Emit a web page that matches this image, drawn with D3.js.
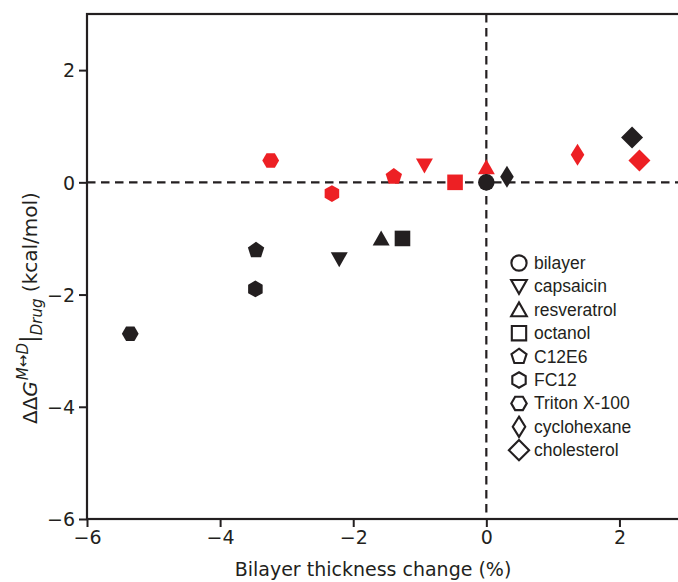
<!DOCTYPE html>
<html>
<head>
<meta charset="utf-8">
<script src="https://cdn.jsdelivr.net/npm/d3@7"></script>
<style>
  body { margin: 0; background: #fff; }
  svg { display: block; }
</style>
</head>
<body>
<div id="chart"></div>
<script>
/* drug names, one shape each */
const drugs = ["bilayer", "capsaicin", "resveratrol", "octanol", "C12E6", "FC12", "Triton X-100", "cyclohexane", "cholesterol"];
const shapes = ["circle", "triDown", "triUp", "square", "pentagon", "hexTall", "hexWide", "thinDiamond", "diamond"];

/* thickness change (%) and ddG (kcal/mol), black series */
const blackX = [0, -2.21, -1.58, -1.26, -3.46, -3.47, -5.35, 0.31, 2.19];
const blackY = [0, -1.37, -1.0, -1.0, -1.21, -1.9, -2.7, 0.1, 0.8];
/* red series (no bilayer point) */
const redX = [null, -0.93, 0.0, -0.47, -1.39, -2.32, -3.24, 1.37, 2.3];
const redY = [null, 0.3, 0.27, 0.0, 0.1, -0.2, 0.39, 0.49, 0.39];

const xTicks = [-6, -4, -2, 0, 2];
const yTicks = [-6, -4, -2, 0, 2];

const width = 678, height = 582;
const margin = {left: 87, top: 14, right: -8, bottom: 63};
const black = "#231f20", red = "#ed2024";

const svg = d3.select("#chart").append("svg")
  .attr("width", width).attr("height", height);

const x = d3.scaleLinear().domain([-6, 3]).range([margin.left, width - margin.right]);
const y = d3.scaleLinear().domain([-6, 3]).range([height - margin.bottom, margin.top]);

/* polygon path for a marker shape */
function markerPath(shape) {
  const poly = (n, r, rot) => d3.range(n).map(i => {
    const a = rot + i * 2 * Math.PI / n;
    return [r * Math.sin(a), -r * Math.cos(a)];
  });
  let pts;
  switch (shape) {
    case "circle": return d3.symbol(d3.symbolCircle, 215)();
    case "triDown": pts = [[-8.5, -7], [8.5, -7], [0, 8]]; break;
    case "triUp": pts = [[-8.5, 7], [8.5, 7], [0, -8]]; break;
    case "square": pts = [[-7.8, -7.8], [7.8, -7.8], [7.8, 7.8], [-7.8, 7.8]]; break;
    case "pentagon": pts = poly(5, 8.6, 0); break;
    case "hexTall": pts = poly(6, 8.4, 0); break;
    case "hexWide": pts = poly(6, 8.4, Math.PI / 6); break;
    case "thinDiamond": pts = [[0, -11], [6.8, 0], [0, 11], [-6.8, 0]]; break;
    case "diamond": pts = [[0, -11], [11, 0], [0, 11], [-11, 0]]; break;
  }
  return "M" + pts.map(p => p.join(",")).join("L") + "Z";
}

/* dashed zero lines */
svg.append("line")
  .attr("x1", x(0)).attr("x2", x(0))
  .attr("y1", y(3)).attr("y2", y(-6))
  .attr("stroke", black).attr("stroke-width", 2.2).attr("stroke-dasharray", "8.5,5.5");
svg.append("line")
  .attr("x1", x(-6)).attr("x2", x(3))
  .attr("y1", y(0)).attr("y2", y(0))
  .attr("stroke", black).attr("stroke-width", 2.2).attr("stroke-dasharray", "8.5,5.5");

/* points */
const points = [];
drugs.forEach((d, i) => {
  if (redX[i] !== null) points.push({x: redX[i], y: redY[i], shape: shapes[i], color: red});
});
drugs.forEach((d, i) => {
  points.push({x: blackX[i], y: blackY[i], shape: shapes[i], color: black});
});

svg.append("g").selectAll("path")
  .data(points)
  .enter()
  .append("path")
  .attr("d", d => markerPath(d.shape))
  .attr("transform", d => "translate(" + x(d.x) + "," + y(d.y) + ")")
  .attr("fill", d => d.color);

/* axes */
const xAxis = d3.axisBottom(x).tickValues(xTicks).tickSize(8).tickPadding(4)
  .tickFormat(v => String(v).replace("-", "\u2212"));
const yAxis = d3.axisLeft(y).tickValues(yTicks).tickSize(8).tickPadding(4)
  .tickFormat(v => String(v).replace("-", "\u2212"));

const gx = svg.append("g")
  .attr("transform", "translate(0," + y(-6) + ")")
  .call(xAxis);
const gy = svg.append("g")
  .attr("transform", "translate(" + x(-6) + ",0)")
  .call(yAxis);

[gx, gy].forEach(g => {
  g.select(".domain").remove();
  g.selectAll("line").attr("stroke", black).attr("stroke-width", 2);
  g.selectAll("text")
    .attr("fill", black)
    .style("font-family", "DejaVu Sans")
    .style("font-size", "19px");
});
gy.selectAll("text").attr("dy", "0.36em");

/* frame */
svg.append("rect")
  .attr("x", x(-6)).attr("y", y(3))
  .attr("width", x(3) - x(-6)).attr("height", y(-6) - y(3))
  .attr("fill", "none").attr("stroke", black).attr("stroke-width", 2.2);

/* axis labels */
svg.append("text")
  .attr("x", 373)
  .attr("y", 576)
  .attr("text-anchor", "middle")
  .style("font-family", "DejaVu Sans").style("font-size", "19px")
  .attr("fill", black)
  .text("Bilayer thickness change (%)");

const yl = svg.append("text")
  .attr("transform", "translate(37,424) rotate(-90)")
  .attr("text-anchor", "start")
  .style("font-family", "DejaVu Sans").style("font-size", "20px")
  .attr("fill", black);
yl.append("tspan").text("\u0394\u0394");
yl.append("tspan").style("font-style", "italic").text("G");
yl.append("tspan").attr("dy", -9).attr("dx", 1).style("font-size", "15px").style("font-style", "italic").text("M");
yl.append("tspan").style("font-size", "15px").text("\u2194");
yl.append("tspan").style("font-size", "15px").style("font-style", "italic").text("D");
yl.append("tspan").attr("dy", 9).style("font-size", "23px").text("|");
yl.append("tspan").attr("dy", 5).style("font-size", "15px").style("font-style", "italic").text("Drug");
yl.append("tspan").attr("dy", -5).text(" (kcal/mol)");

/* legend with open markers */
const legX = 519, legY0 = 263, legStep = 23.4;
const leg = svg.append("g");
drugs.forEach((d, i) => {
  const gy0 = legY0 + i * legStep;
  leg.append("path")
    .attr("d", markerPath(shapes[i]))
    .attr("transform", "translate(" + legX + "," + gy0 + ") scale(0.92)")
    .attr("fill", "none").attr("stroke", black).attr("stroke-width", 2.3);
  leg.append("text")
    .attr("x", legX + 15).attr("y", gy0 + 6)
    .style("font-family", "Liberation Sans").style("font-size", "17.5px")
    .attr("fill", black)
    .text(d);
});
</script>
</body>
</html>
